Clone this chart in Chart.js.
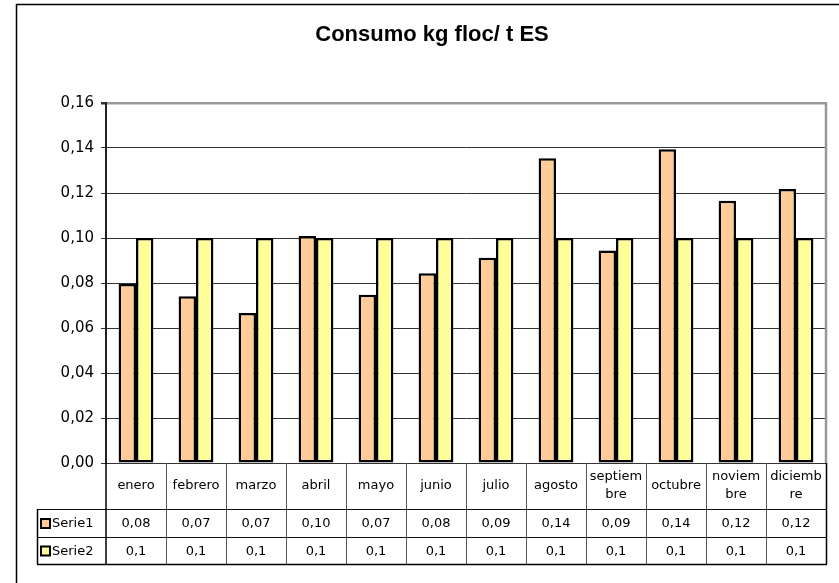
<!DOCTYPE html>
<html>
<head>
<meta charset="utf-8">
<script src="https://cdn.jsdelivr.net/npm/chart.js@4/dist/chart.umd.min.js"></script>
<style>
  html, body { margin: 0; padding: 0; background: #fff; }
  #wrap { width: 839px; height: 583px; }
</style>
</head>
<body>
<div id="wrap"><canvas id="chart" width="839" height="583"></canvas></div>
<script>
// data
var categories = ['enero', 'febrero', 'marzo', 'abril', 'mayo', 'junio', 'julio', 'agosto', 'septiembre', 'octubre', 'noviembre', 'diciembre'];
// labels as they wrap inside the table cells
var tableLabels = [['enero'], ['febrero'], ['marzo'], ['abril'], ['mayo'], ['junio'], ['julio'], ['agosto'], ['septiem', 'bre'], ['octubre'], ['noviem', 'bre'], ['diciemb', 're']];
var serie1 = [0.0796, 0.0741, 0.0667, 0.1009, 0.0748, 0.0843, 0.0912, 0.1354, 0.0945, 0.1394, 0.1166, 0.1218];
var serie2 = [0.1, 0.1, 0.1, 0.1, 0.1, 0.1, 0.1, 0.1, 0.1, 0.1, 0.1, 0.1];
var seriesNames = ['Serie1', 'Serie2'];
var seriesColors = ['#FFCC99', '#FFFF99'];
var tableDecimals = [2, 1];
var yTicks = [0, 0.02, 0.04, 0.06, 0.08, 0.10, 0.12, 0.14, 0.16];

var tableFont = '13px "DejaVu Sans"';

function fmt(v, d) {
    return v.toFixed(d).replace('.', ',');
}

// frame, title, plot border and the data table underneath
var extras = {
    id: 'extras',
    beforeDraw: function (chart) {
        var c = chart.ctx;
        c.save();
        c.fillStyle = '#fff';
        c.fillRect(0, 0, chart.width, chart.height);
        c.strokeStyle = '#000';
        c.lineWidth = 1.5;
        c.strokeRect(16.5, 4.5, 900, 700);
        c.restore();
    },
    afterDraw: function (chart) {
        var c = chart.ctx;
        var x = chart.scales.x;
        var area = chart.chartArea;
        var colW = (area.right - area.left) / categories.length;

        c.save();
        // title
        c.fillStyle = '#000';
        c.font = 'bold 22px "Liberation Sans", Arial, sans-serif';
        c.textAlign = 'center';
        c.textBaseline = 'middle';
        c.fillText('Consumo kg floc/ t ES', 432, 35);

        // right plot border
        c.strokeStyle = '#999';
        c.lineWidth = 2.5;
        c.beginPath();
        c.moveTo(area.right, area.top - 1);
        c.lineTo(area.right, area.bottom);
        c.stroke();

        // table geometry
        var top = area.bottom;
        var headBot = 509, row1Bot = 537, row2Bot = 564, legLeft = 37;

        // vertical lines between categories
        c.strokeStyle = '#555';
        c.lineWidth = 1;
        for (var i = 1; i < categories.length; i++) {
            var bx = Math.round(x.getPixelForValue(i) - colW / 2) + 0.5;
            c.beginPath();
            c.moveTo(bx, top);
            c.lineTo(bx, row2Bot);
            c.stroke();
        }
        // horizontal lines
        c.strokeStyle = '#111';
        c.lineWidth = 1.2;
        [headBot, row1Bot].forEach(function (yy) {
            c.beginPath();
            c.moveTo(legLeft, yy + 0.5);
            c.lineTo(area.right, yy + 0.5);
            c.stroke();
        });
        c.strokeStyle = '#000';
        c.lineWidth = 1.5;
        c.beginPath();
        c.moveTo(legLeft, row2Bot + 0.5);
        c.lineTo(area.right + 1, row2Bot + 0.5);
        c.moveTo(legLeft + 0.5, headBot);
        c.lineTo(legLeft + 0.5, row2Bot);
        c.moveTo(area.left, top);
        c.lineTo(area.left, row2Bot);
        c.moveTo(area.right + 0.5, top);
        c.lineTo(area.right + 0.5, row2Bot);
        c.stroke();

        // category labels
        c.font = tableFont;
        c.fillStyle = '#000';
        c.textAlign = 'center';
        c.textBaseline = 'middle';
        var headMid = (top + headBot) / 2;
        tableLabels.forEach(function (lines, i) {
            var cx = x.getPixelForValue(i);
            var lh = 18;
            var y0 = headMid - (lines.length - 1) * lh / 2;
            lines.forEach(function (t, k) {
                c.fillText(t, cx, y0 + k * lh);
            });
        });

        // series rows
        var rows = [[headBot, row1Bot], [row1Bot, row2Bot]];
        [serie1, serie2].forEach(function (vals, s) {
            var midY = (rows[s][0] + rows[s][1]) / 2 + 1;
            c.textAlign = 'center';
            vals.forEach(function (v, i) {
                c.fillText(fmt(v, tableDecimals[s]), x.getPixelForValue(i), midY);
            });
            // legend key
            c.fillStyle = seriesColors[s];
            c.fillRect(41, midY - 5, 9, 9);
            c.strokeStyle = '#000';
            c.lineWidth = 2;
            c.strokeRect(41, midY - 5, 9, 9);
            c.fillStyle = '#000';
            c.textAlign = 'left';
            c.fillText(seriesNames[s], 52, midY);
        });
        c.restore();
    }
};

var ctx = document.getElementById('chart').getContext('2d');
var chart = new Chart(ctx, {
    type: 'bar',
    data: {
        labels: categories,
        datasets: [{
            label: seriesNames[0],
            data: serie1,
            backgroundColor: seriesColors[0],
            borderColor: '#000',
            borderWidth: 2.5,
            borderSkipped: false,
            categoryPercentage: 0.58,
            barPercentage: 1
        }, {
            label: seriesNames[1],
            data: serie2,
            backgroundColor: seriesColors[1],
            borderColor: '#000',
            borderWidth: 2.5,
            borderSkipped: false,
            categoryPercentage: 0.58,
            barPercentage: 1
        }]
    },
    options: {
        responsive: false,
        animation: false,
        layout: { padding: { left: 16, right: 13, top: 103, bottom: 120 } },
        plugins: {
            legend: { display: false },
            title: { display: false },
            tooltip: { enabled: false }
        },
        scales: {
            x: { display: false },
            y: {
                min: 0,
                max: 0.16,
                afterBuildTicks: function (scale) {
                    scale.ticks = yTicks.map(function (v) { return { value: v }; });
                },
                afterFit: function (scale) { scale.width = 90; },
                ticks: {
                    color: '#000',
                    padding: 7,
                    font: { family: 'DejaVu Sans', size: 15 },
                    callback: function (v) { return fmt(v, 2); }
                },
                grid: {
                    color: function (c) { return c.index === yTicks.length - 1 ? '#999' : '#333'; },
                    lineWidth: function (c) { return c.index === yTicks.length - 1 ? 2.5 : 1; },
                    tickColor: '#333',
                    tickLength: 5
                },
                border: { color: '#222', width: 2 }
            }
        }
    },
    plugins: [extras]
});
</script>
</body>
</html>
